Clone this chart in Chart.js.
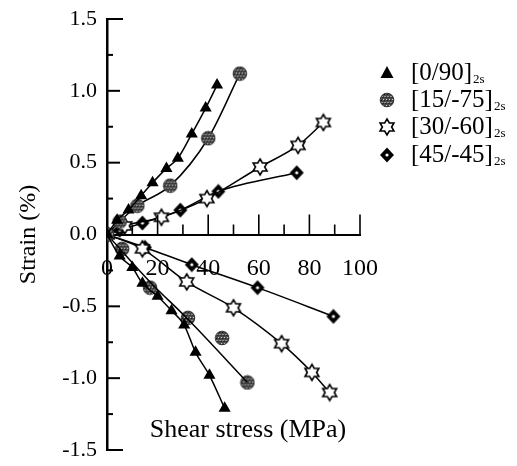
<!DOCTYPE html>
<html>
<head>
<meta charset="utf-8">
<script src="https://cdn.jsdelivr.net/npm/chart.js@4"></script>
<style>
  html, body { margin: 0; padding: 0; background: #fff; }
  #wrap { width: 517px; height: 466px; }
</style>
</head>
<body>
<div id="wrap"><canvas id="strainChart" width="517" height="466"></canvas></div>
<script>
// === Data (shear stress in MPa, strain in %) ===
const stress090Pos = [0, 4, 8.5, 13.5, 18, 23.5, 28, 33.5, 39, 43.5];
const strain090Pos = [0, 0.1, 0.17, 0.27, 0.36, 0.46, 0.53, 0.70, 0.88, 1.04];
const stress090Neg = [0, 5, 10, 14, 20, 25.5, 30.5, 35, 40.5, 46.5];
const strain090Neg = [0, -0.15, -0.23, -0.34, -0.43, -0.53, -0.63, -0.82, -0.98, -1.21];

const stress1575Pos = [0, 5, 12, 25, 40, 52.5];
const strain1575Pos = [0, 0.09, 0.2, 0.34, 0.67, 1.12];
const stress1575Neg = [0, 6, 17, 32, 45.5, 55.5];
const strain1575Neg = [0, -0.1, -0.37, -0.58, -0.72, -1.03];
// drawn curve through the negative [15/-75] points (points scatter around it)
const curve1575NegX = [0, 17, 32, 55.5];
const curve1575NegY = [0, -0.33, -0.59, -1.03];

const stress3060Pos = [0, 7, 21.5, 39.5, 60.5, 75.5, 85.5];
const strain3060Pos = [0, 0.06, 0.12, 0.25, 0.47, 0.62, 0.78];
const stress3060Neg = [0, 14, 31.5, 50, 69, 81, 88];
const strain3060Neg = [0, -0.1, -0.33, -0.51, -0.76, -0.96, -1.10];

const stress4545Pos = [0, 5, 14, 29, 44, 75];
const strain4545Pos = [0, 0.03, 0.08, 0.17, 0.30, 0.43];
const stress4545Neg = [0, 15, 33.5, 59.5, 89.5];
const strain4545Neg = [0, -0.09, -0.21, -0.37, -0.57];

const seriesNames = ['[0/90]', '[15/-75]', '[30/-60]', '[45/-45]'];
const xTicks = [0, 20, 40, 60, 80, 100];
const yTicks = [-1.5, -1.0, -0.5, 0.0, 0.5, 1.0, 1.5];

const serifFont = '"Liberation Serif", "DejaVu Serif", serif';

// === Marker images ===
function makeSpeckle() {
  const c = document.createElement('canvas');
  c.width = 16; c.height = 16;
  const g = c.getContext('2d');
  g.beginPath(); g.arc(8, 8, 7, 0, Math.PI * 2); g.closePath();
  g.fillStyle = '#4a4a4a'; g.fill();
  g.save(); g.clip();
  for (let y = 1; y < 16; y += 3) {
    for (let x = (y % 2) ? 1 : 2.5; x < 16; x += 3) {
      g.fillStyle = '#d8d8d8';
      g.fillRect(x, y, 1, 1);
      g.fillStyle = '#111';
      g.fillRect(x + 1, y + 1, 1, 1);
    }
  }
  g.restore();
  g.lineWidth = 1; g.strokeStyle = '#333';
  g.beginPath(); g.arc(8, 8, 6.8, 0, Math.PI * 2); g.stroke();
  return c;
}

function makeStar() {
  const c = document.createElement('canvas');
  c.width = 20; c.height = 20;
  const g = c.getContext('2d');
  const R = 8, r = R / Math.sqrt(3);
  g.beginPath();
  for (let k = 0; k < 12; k++) {
    const ang = (-90 + k * 30) * Math.PI / 180;
    const rad = k % 2 === 0 ? R : r;
    const px = 10 + rad * Math.cos(ang), py = 10 + rad * Math.sin(ang);
    if (k === 0) g.moveTo(px, py); else g.lineTo(px, py);
  }
  g.closePath();
  g.fillStyle = '#fff'; g.fill();
  g.lineWidth = 1.6; g.strokeStyle = '#000'; g.stroke();
  return c;
}

function makeDiamond() {
  const c = document.createElement('canvas');
  c.width = 16; c.height = 16;
  const g = c.getContext('2d');
  g.beginPath();
  g.moveTo(8, 0.5); g.lineTo(15, 8); g.lineTo(8, 15.5); g.lineTo(1, 8);
  g.closePath();
  g.fillStyle = '#000'; g.fill();
  g.beginPath(); g.arc(8, 8, 1.6, 0, Math.PI * 2);
  g.fillStyle = '#fff'; g.fill();
  return c;
}

const speckleImg = makeSpeckle();
const starImg = makeStar();
const diamondImg = makeDiamond();

function toPoints(xs, ys) {
  return xs.map((x, i) => ({ x, y: ys[i] }));
}

function series(xs, ys, style, radius, withLine = true) {
  return {
    data: toPoints(xs, ys),
    showLine: withLine,
    borderColor: '#000',
    borderWidth: 1.5,
    backgroundColor: '#000',
    pointBackgroundColor: '#000',
    pointBorderColor: '#000',
    pointBorderWidth: 0,
    pointStyle: style,
    pointRadius: radius,
    cubicInterpolationMode: 'monotone'
  };
}

// === Custom drawing: inward ticks, x title, legend ===
const figureExtras = {
  id: 'figureExtras',
  afterDraw(chart) {
    const ctx = chart.ctx;
    const xs = chart.scales.x, ys = chart.scales.y;
    const x0 = xs.getPixelForValue(0), y0 = ys.getPixelForValue(0);
    ctx.save();
    ctx.strokeStyle = '#000';
    ctx.lineWidth = 2;
    // y ticks pointing right
    for (let v = -1.5; v <= 1.501; v += 0.25) {
      if (Math.abs(v) < 0.01) continue;
      const major = Math.abs(v * 2 - Math.round(v * 2)) < 0.01;
      const len = Math.abs(Math.abs(v) - 1.5) < 0.01 ? 16 : (major ? 13 : 6);
      const py = ys.getPixelForValue(v);
      ctx.beginPath(); ctx.moveTo(x0, py); ctx.lineTo(x0 + len, py); ctx.stroke();
    }
    // x ticks pointing up
    ctx.lineWidth = 1.6;
    for (let v = 10; v <= 100; v += 10) {
      const len = v % 20 === 0 ? 20 : 10;
      const px = xs.getPixelForValue(v);
      ctx.beginPath(); ctx.moveTo(px, y0); ctx.lineTo(px, y0 - len); ctx.stroke();
    }

    // x axis title inside the plot
    ctx.fillStyle = '#000';
    ctx.font = '26px ' + serifFont;
    ctx.textAlign = 'center';
    ctx.textBaseline = 'middle';
    ctx.fillText('Shear stress (MPa)', 248, 430);

    // legend
    const rowsY = [73, 100, 127, 155];
    const mx = 387, tx = 411;
    rowsY.forEach((ry, i) => {
      if (i === 0) {
        ctx.beginPath();
        ctx.moveTo(mx, ry - 7); ctx.lineTo(mx + 6.5, ry + 5); ctx.lineTo(mx - 6.5, ry + 5);
        ctx.closePath(); ctx.fillStyle = '#000'; ctx.fill();
      } else {
        const img = [null, speckleImg, starImg, diamondImg][i];
        ctx.drawImage(img, mx - img.width / 2, ry - img.height / 2);
      }
      ctx.fillStyle = '#000';
      ctx.textAlign = 'left';
      ctx.textBaseline = 'middle';
      ctx.font = '25px ' + serifFont;
      ctx.fillText(seriesNames[i], tx, ry);
      const w = ctx.measureText(seriesNames[i]).width;
      ctx.font = '13px ' + serifFont;
      ctx.fillText('2s', tx + w + 1, ry + 7);
    });
    ctx.restore();
  }
};

const curveOnly = series(curve1575NegX, curve1575NegY, 'circle', 0);

new Chart(document.getElementById('strainChart'), {
  type: 'scatter',
  data: {
    datasets: [
      series(stress090Pos, strain090Pos, 'triangle', 7),
      series(stress090Neg, strain090Neg, 'triangle', 7),
      series(stress1575Pos, strain1575Pos, speckleImg, 7),
      curveOnly,
      series(stress1575Neg, strain1575Neg, speckleImg, 7, false),
      series(stress3060Pos, strain3060Pos, starImg, 8),
      series(stress3060Neg, strain3060Neg, starImg, 8),
      series(stress4545Pos, strain4545Pos, diamondImg, 7),
      series(stress4545Neg, strain4545Neg, diamondImg, 7)
    ]
  },
  options: {
    responsive: false,
    animation: false,
    devicePixelRatio: 1,
    layout: { padding: { left: 0, top: 19, right: 157, bottom: 16 } },
    plugins: {
      legend: { display: false },
      tooltip: { enabled: false }
    },
    scales: {
      x: {
        type: 'linear',
        min: 0,
        max: 100,
        position: { y: 0 },
        afterBuildTicks: (scale) => { scale.ticks = xTicks.map(v => ({ value: v })); },
        ticks: {
          color: '#000',
          padding: 20,
          maxRotation: 0,
          font: { family: serifFont, size: 24 }
        },
        grid: { drawOnChartArea: false, drawTicks: false },
        border: { display: true, color: '#000', width: 2 }
      },
      y: {
        type: 'linear',
        min: -1.5,
        max: 1.5,
        position: 'left',
        afterBuildTicks: (scale) => { scale.ticks = yTicks.map(v => ({ value: v })); },
        afterFit: (scale) => {
          scale.width = 107;
          scale.paddingTop = 0;
          scale.paddingBottom = 0;
        },
        ticks: {
          color: '#000',
          padding: 10,
          font: { family: serifFont, size: 22 },
          callback: (v) => Number(v).toFixed(1)
        },
        title: {
          display: true,
          text: 'Strain (%)',
          color: '#000',
          font: { family: serifFont, size: 24 },
          padding: { top: 14, bottom: 0 }
        },
        grid: { drawOnChartArea: false, drawTicks: false },
        border: { display: true, color: '#000', width: 2.5 }
      }
    }
  },
  plugins: [figureExtras]
});
</script>
</body>
</html>
